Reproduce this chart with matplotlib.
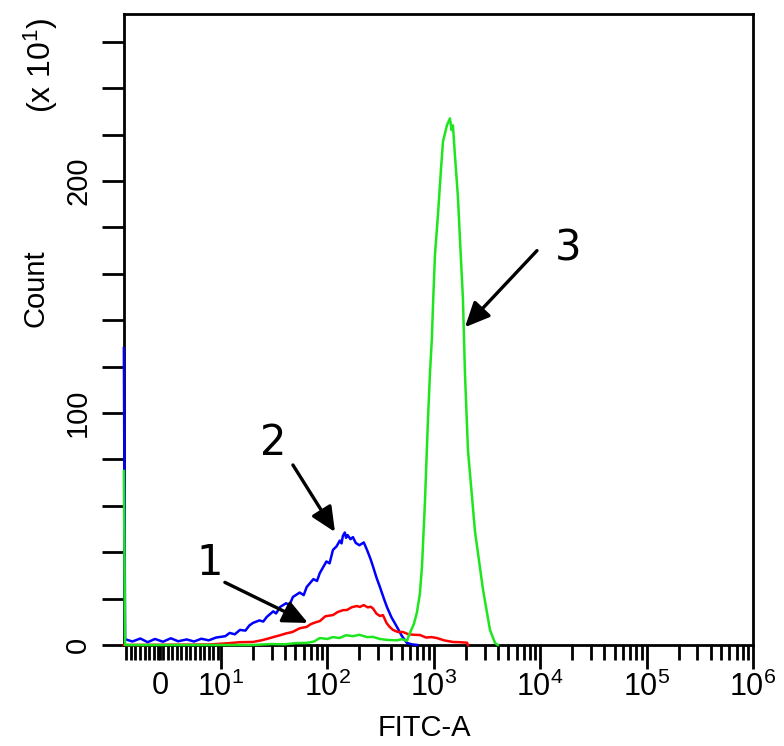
import numpy as np
import matplotlib
matplotlib.use('Agg')
import matplotlib.pyplot as plt

plt.rcParams['font.family'] = 'Liberation Sans'
plt.rcParams['mathtext.fontset'] = 'custom'
plt.rcParams['mathtext.rm'] = 'Liberation Sans'
plt.rcParams['mathtext.it'] = 'Liberation Sans'

# histogram 2 (blue)
x_blue = [-5.9, -5.7, -4.5, -3.2, -2.0, -0.8, 0.5, 1.8, 3.0, 4.4, 5.6, 6.8, 8.0, 9.2,
          11, 12.1, 13.5, 15.1, 17, 18.5, 20, 23, 25, 27, 31, 33, 36, 41, 44, 47.5, 55,
          60, 64, 74, 80, 85, 98, 105, 113, 122, 131, 136, 140, 146, 150, 155, 165, 174,
          185, 200, 220, 236, 255, 268, 290, 312, 340, 363, 400, 451, 500, 560, 620, 700]
y_blue = [128, 2.5, 1.5, 2.8, 1.2, 2.6, 1.4, 2.9, 1.6, 2.4, 1.5, 2.7, 2.0, 3.2,
          3.8, 5.2, 4.6, 6.5, 6.2, 8.4, 9.5, 10.6, 10.1, 12.1, 14.5, 13.6, 16.4, 18.0,
          17.2, 20.7, 22.6, 21.5, 25.0, 28.4, 27.6, 31, 36, 35.2, 41, 42.5, 45, 43.8,
          47, 48.5, 46.2, 47.4, 45.6, 46.5, 44, 43, 44.2, 41, 37, 34, 29, 25, 20,
          16.4, 12, 7.8, 4, 0.9, 0.3, 0]

# histogram 1 (red)
x_red = [-5.9, 8, 12, 15, 20, 24, 28, 31, 36, 41, 47, 55, 64, 70, 78, 85, 96, 113,
         125, 140, 153, 170, 190, 202, 220, 240, 255, 268, 290, 312, 333, 360, 385,
         414, 460, 513, 580, 650, 742, 850, 950, 1072, 1250, 1514, 1750, 2051, 2100]
y_red = [0, 0.2, 0.8, 1.2, 1.3, 2.0, 2.8, 3.4, 4.2, 5.0, 5.6, 7.2, 7.8, 9.0, 9.8,
         10.3, 12.4, 12.9, 14.2, 15.0, 15.1, 16.3, 16.8, 16.4, 17.2, 16.2, 16.5, 15.8,
         13.5, 12.5, 12.9, 9.5, 7.8, 6.5, 5.6, 5.6, 4.6, 4.4, 4.3, 3.2, 3.4, 3.0, 2.0,
         1.3, 1.2, 1.0, 0]

# histogram 3 (green)
x_green = [-5.9, -5.7, 20, 30, 40, 50, 64, 75, 85, 100, 113, 130, 150, 174, 200, 236,
           268, 312, 363, 451, 500, 560, 597, 650, 695, 740, 775, 827, 882, 921, 960,
           983, 1026, 1094, 1169, 1221, 1330, 1420, 1470, 1514, 1582, 1688, 1763, 1881,
           1965, 2096, 2440, 2900, 3375, 3760, 4000]
y_green = [75, 0, 0, 0.4, 0.3, 0.8, 0.9, 1.5, 3.0, 2.6, 3.4, 3.0, 4.2, 3.8, 4.4, 3.4,
           3.5, 2.6, 2.2, 2.0, 2.5, 1.8, 5.2, 9, 14, 22, 33.6, 62, 97, 117, 132, 146,
           168, 185, 205, 217, 224, 227, 222, 224, 211, 193, 175, 149, 117, 84, 49, 24,
           6.5, 0.9, 0]

# labels: (text, text pos, arrow tail, arrow tip)
marks = [('1', (8.2, 35.3), (10.9, 27), (65.7, 9.5)),
         ('2', (30.8, 87), (47.5, 77.6), (118, 48.7)),
         ('3', (18240, 171), (9330, 170), (1965, 137))]

fig = plt.figure(figsize=(7.84, 7.46), dpi=100)
ax = fig.add_axes([0.158, 0.1354, 0.8025, 0.8458])

ax.plot(x_blue, y_blue, color='#0000ff', lw=1.8, zorder=3, clip_on=False)
ax.plot(x_red, y_red, color='#ff0000', lw=1.8, zorder=3, clip_on=False)
ax.plot(x_green, y_green, color='#1ee61e', lw=1.8, zorder=3, clip_on=False)

ax.set_xscale('symlog', linthresh=10, linscale=0.516)
ax.set_xlim(-5.9, 1e6)
ax.set_ylim(0, 272)

major = [10, 100, 1e3, 1e4, 1e5, 1e6]
ax.set_xticks(major, labels=['$10^{%d}$' % k for k in range(1, 7)])
lin_minor = list(np.arange(-5.5, 9.6, 0.75))
log_minor = [m * 10 ** k for k in range(1, 6) for m in range(2, 10)]
minor = [0] + lin_minor + log_minor
ax.set_xticks(minor, labels=['0'] + [''] * (len(minor) - 1), minor=True)
ax.tick_params(axis='x', which='major', length=17, width=2, labelsize=22, pad=2)
ax.tick_params(axis='x', which='minor', length=11, width=2, labelsize=22, pad=8)

ax.set_yticks([0, 100, 200])
ax.set_yticks(range(20, 261, 20), minor=True)
ax.tick_params(axis='y', which='both', length=16, width=2, labelsize=21, pad=17)
for lab in ax.get_yticklabels():
    lab.set_rotation(90)
    lab.set_va('center')
    lab.set_ha('center')

for s in ax.spines.values():
    s.set_linewidth(2)

ax.set_xlabel('FITC-A', fontsize=21)
ax.xaxis.set_label_coords(0.477, -0.11)
ax.set_ylabel('Count', fontsize=21)
ax.yaxis.set_label_coords(-0.118, 0.566)
fig.text(0.052, 0.913, '(x 10$^{1}$)', rotation=90, ha='center', va='center', fontsize=23)

for txt, tpos, tail, tip in marks:
    ax.text(tpos[0], tpos[1], txt, fontsize=30, family='DejaVu Sans', ha='center', va='center')
    ax.annotate('', xy=tip, xytext=tail,
                arrowprops=dict(arrowstyle='-|>,head_length=0.5,head_width=0.23',
                                color='black', lw=2.4, mutation_scale=30,
                                shrinkA=0, shrinkB=0))

fig.savefig('out.png', dpi=100)
